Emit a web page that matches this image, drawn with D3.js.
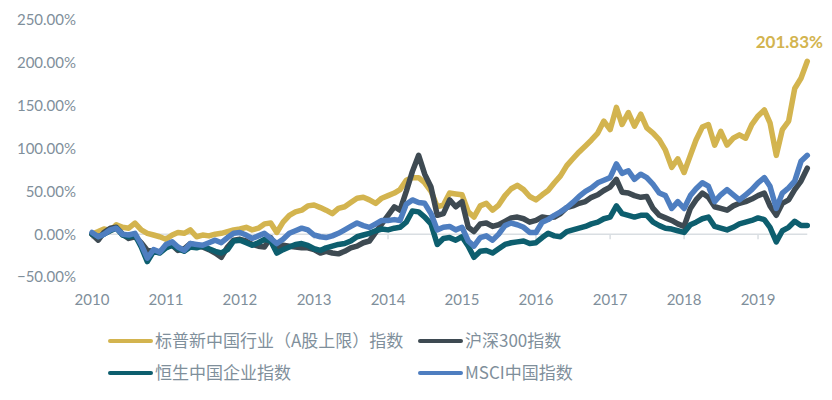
<!DOCTYPE html>
<html>
<head>
<meta charset="utf-8">
<script src="https://cdn.jsdelivr.net/npm/d3@7"></script>
<style>
  body { margin: 0; background: #fff; }
  svg text { font-family: Lato, "Noto Sans CJK SC", sans-serif; }
</style>
</head>
<body>
<div id="chart"></div>
<script>
var w = 832;
var h = 400;

// series names (legend order)
var names = ["标普新中国行业（A股上限）指数", "沪深300指数", "恒生中国企业指数", "MSCI中国指数"];
var colors = ["#D3B44F", "#3E4A52", "#0D5E6E", "#4E7EC0"];

// monthly points, Jan 2010 .. Sep 2019 (cumulative return, %)
var startMonth = "2010-01";
var spNewChina = [0, 3, 6, 4, 11, 8, 7, 13, 5, 1, -1, -3,
  -6, -1, 2, 1, 5, -3, -1, -2, 0, 1, 3, 5,
  6, 8, 5, 7, 12, 13, 2, 14, 22, 26, 28, 33,
  34, 31, 28, 24, 30, 32, 37, 42, 43, 40, 36, 42,
  45, 48, 52, 63, 66, 66, 60, 50, 32, 34, 48, 47,
  46, 26, 20, 33, 36, 28, 34, 45, 53, 57, 52, 44,
  40, 46, 51, 60, 68, 80, 88, 96, 103, 110, 118, 132,
  122, 148, 128, 142, 126, 140, 124, 118, 110, 98, 78, 88,
  72, 92, 110, 125, 128, 104, 120, 104, 112, 116, 112, 128,
  138, 145, 130, 92, 122, 132, 170, 182, 201.83];
var csi300 = [0, -7, 2, 7, 8, 0, -5, -3, -10, -19, -20, -21,
  -15, -13, -19, -17, -11, -13, -15, -18, -22, -27, -15, -7,
  -6, -8, -12, -14, -15, -4, -16, -13, -14, -15, -16, -16,
  -18, -22, -20, -22, -23, -20, -16, -14, -10, -8, 2, 12,
  22, 32, 28, 50, 73, 92, 70, 55, 22, 24, 40, 32,
  38, 8, 3, 12, 13, 9, 11, 15, 19, 20, 18, 14,
  16, 20, 19, 20, 24, 31, 33, 36, 38, 43, 46, 51,
  55, 64, 49, 48, 45, 43, 44, 30, 22, 19, 16, 12,
  9, 30, 40, 48, 43, 32, 30, 28, 33, 36, 38, 41,
  45, 48, 33, 22, 36, 40, 52, 62, 77];
var hscei = [0, -3, 0, 4, 7, -1, -3, -1, -15, -32, -20, -22,
  -16, -13, -17, -20, -15, -16, -14, -17, -20, -22, -18, -8,
  -7, -10, -13, -10, -6, -8, -22, -18, -15, -12, -11, -13,
  -17, -19, -16, -14, -12, -11, -8, -3, -1, 1, 4, 6,
  5, 7, 8, 14, 27, 26, 20, 12, -12, -5, -4, -7,
  -3, -14, -27, -20, -19, -22, -17, -12, -10, -9, -8, -11,
  -10, -4, 1, -2, -3, 3, 5, 7, 9, 12, 14, 18,
  20, 33, 24, 22, 20, 22, 22, 14, 10, 7, 6, 4,
  2, 11, 14, 18, 20, 9, 7, 5, 8, 12, 14, 16,
  19, 17, 8, -9, 4, 8, 15, 10, 10];
var msciChina = [2, -3, 0, 5, 7, 0, -1, 1, -12, -28, -18, -21,
  -12, -9, -15, -19, -11, -12, -13, -10, -7, -10, -4, 1,
  2, -1, -5, -2, 1, -5, -11, -6, 1, 4, 7, 5,
  -1, -3, -4, -2, 1, 5, 9, 13, 10, 8, 12, 16,
  16, 17, 16, 35, 40, 37, 36, 24, 5, 8, 9, 5,
  8, -8, -14, -4, -2, -7, 0, 10, 13, 11, 8, 2,
  2, 14, 17, 22, 26, 31, 37, 44, 50, 54, 60, 63,
  66, 82, 71, 74, 64, 70, 66, 58, 48, 45, 30, 38,
  30, 45, 53, 60, 56, 38, 46, 52, 46, 40, 46, 52,
  60, 66, 56, 30, 48, 54, 62, 85, 92];

var yTicks = [-50, 0, 50, 100, 150, 200, 250];
var xYears = [2010, 2011, 2012, 2013, 2014, 2015, 2016, 2017, 2018, 2019];
var endLabel = "201.83%";

var seriesData = [spNewChina, csi300, hscei, msciChina];
var t0 = d3.timeParse("%Y-%m")(startMonth);
var dates = d3.range(spNewChina.length).map(function(i) { return d3.timeMonth.offset(t0, i); });

var svg = d3.select("#chart").append("svg")
  .attr("width", w)
  .attr("height", h);

var x = d3.scaleTime()
  .domain([new Date(2010, 0, 1), new Date(2020, 0, 1)])
  .range([92, 832]);

var y = d3.scaleLinear()
  .domain([-50, 250])
  .range([277, 20]);

var labelColor = "#7f8f9b";

// y labels (no axis line)
svg.append("g")
  .selectAll("text")
  .data(yTicks)
  .enter()
  .append("text")
  .attr("x", 76)
  .attr("y", function(d) { return y(d); })
  .attr("dy", "0.36em")
  .attr("text-anchor", "end")
  .style("font-size", "15px")
  .style("fill", labelColor)
  .text(function(d) { return d3.format(".2f")(d) + "%"; });

// zero line with year ticks
var lastDate = dates[dates.length - 1];
svg.append("line")
  .attr("x1", x(dates[0]))
  .attr("x2", x(lastDate))
  .attr("y1", y(0))
  .attr("y2", y(0))
  .style("stroke", "#d9dee2")
  .style("stroke-width", 1.5);

svg.append("g")
  .selectAll("line")
  .data(xYears)
  .enter()
  .append("line")
  .attr("x1", function(d) { return x(new Date(d, 0, 1)); })
  .attr("x2", function(d) { return x(new Date(d, 0, 1)); })
  .attr("y1", y(0))
  .attr("y2", y(0) + 5)
  .style("stroke", "#d9dee2")
  .style("stroke-width", 1.5);

// year labels at bottom
svg.append("g")
  .selectAll("text")
  .data(xYears)
  .enter()
  .append("text")
  .attr("x", function(d) { return x(new Date(d, 0, 1)); })
  .attr("y", 305)
  .attr("text-anchor", "middle")
  .style("font-size", "15px")
  .style("fill", labelColor)
  .text(function(d) { return d; });

// lines
var line = d3.line()
  .x(function(d, i) { return x(dates[i]); })
  .y(function(d) { return y(d); });

svg.append("g")
  .selectAll("path")
  .data(seriesData)
  .enter()
  .append("path")
  .attr("d", line)
  .style("fill", "none")
  .style("stroke", function(d, i) { return colors[i]; })
  .style("stroke-width", 5.5)
  .style("stroke-linejoin", "round")
  .style("stroke-linecap", "round");

// end value label
svg.append("text")
  .attr("x", 823)
  .attr("y", 48)
  .attr("text-anchor", "end")
  .style("font-size", "17px")
  .style("font-weight", "bold")
  .style("fill", colors[0])
  .text(endLabel);

// legend
var legPos = [[110, 341], [420, 341], [110, 373], [420, 373]];
var leg = svg.append("g")
  .selectAll("g")
  .data(names)
  .enter()
  .append("g")
  .attr("transform", function(d, i) { return "translate(" + legPos[i][0] + "," + legPos[i][1] + ")"; });

leg.append("line")
  .attr("x1", 0)
  .attr("x2", 41)
  .style("stroke", function(d, i) { return colors[i]; })
  .style("stroke-width", 4)
  .style("stroke-linecap", "round");

leg.append("text")
  .attr("x", 45)
  .attr("dy", "0.36em")
  .style("font-size", "17px")
  .style("font-family", "'Noto Sans CJK SC', Lato, sans-serif")
  .style("fill", labelColor)
  .text(function(d) { return d; });
</script>
</body>
</html>
